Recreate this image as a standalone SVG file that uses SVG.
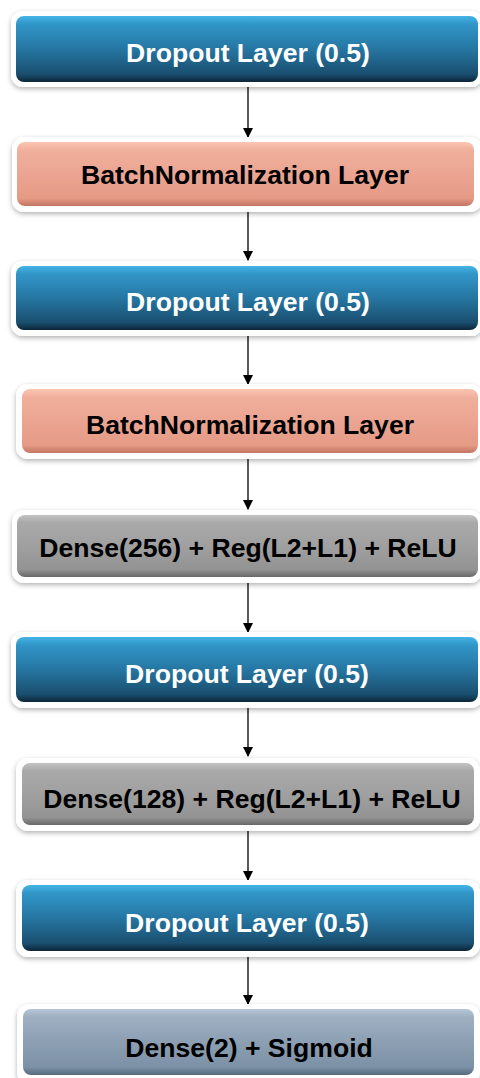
<svg xmlns="http://www.w3.org/2000/svg" width="480" height="1078" viewBox="0 0 480 1078">
<style>
.frame{fill:#ffffff;filter:url(#sh)}
.lbl{font-family:"Liberation Sans",Arial,sans-serif;font-weight:bold;font-size:26.6px;text-anchor:middle}
.w{fill:#ffffff}
.k{fill:#000000}
.conn line{stroke:#000000;stroke-width:1.3;marker-end:url(#ah)}
</style>
<defs>
<filter id="sh" x="-5%" y="-20%" width="110%" height="150%">
<feDropShadow dx="0" dy="2" stdDeviation="2.5" flood-color="#000" flood-opacity="0.3"/>
</filter>
<linearGradient id="gBlue" x1="0" y1="0" x2="0" y2="1">
<stop offset="0" stop-color="#45b4e6"/>
<stop offset="0.12" stop-color="#3196c8"/>
<stop offset="0.5" stop-color="#2676a2"/>
<stop offset="0.88" stop-color="#1a4f70"/>
<stop offset="1" stop-color="#0c2536"/>
</linearGradient>
<linearGradient id="gSalmon" x1="0" y1="0" x2="0" y2="1">
<stop offset="0" stop-color="#fbc6b2"/>
<stop offset="0.12" stop-color="#f0b09c"/>
<stop offset="0.5" stop-color="#eba592"/>
<stop offset="0.88" stop-color="#e59a85"/>
<stop offset="1" stop-color="#c27563"/>
</linearGradient>
<linearGradient id="gGray" x1="0" y1="0" x2="0" y2="1">
<stop offset="0" stop-color="#c4c4c4"/>
<stop offset="0.12" stop-color="#a9a9a9"/>
<stop offset="0.5" stop-color="#a0a0a0"/>
<stop offset="0.88" stop-color="#939393"/>
<stop offset="1" stop-color="#686868"/>
</linearGradient>
<linearGradient id="gSlate" x1="0" y1="0" x2="0" y2="1">
<stop offset="0" stop-color="#b6c6d6"/>
<stop offset="0.12" stop-color="#9fb0c2"/>
<stop offset="0.5" stop-color="#8c9fb3"/>
<stop offset="0.88" stop-color="#7d91a6"/>
<stop offset="1" stop-color="#56697d"/>
</linearGradient>
<marker id="ah" markerWidth="10" markerHeight="10" refX="9" refY="5" orient="auto" markerUnits="userSpaceOnUse">
<path d="M0,0 L10,5 L0,10 Z" fill="#000"/>
</marker>
</defs>

<g id="connectors" class="conn">
<line x1="248" y1="86" x2="248" y2="137"/>
<line x1="248" y1="210" x2="248" y2="260"/>
<line x1="248" y1="334" x2="248" y2="384"/>
<line x1="248" y1="457" x2="248" y2="509"/>
<line x1="248" y1="581" x2="248" y2="632"/>
<line x1="248" y1="706" x2="248" y2="756"/>
<line x1="248" y1="829" x2="248" y2="880"/>
<line x1="248" y1="955" x2="248" y2="1004"/>
</g>

<g id="n1">
<rect class="frame" x="11" y="11" width="472" height="76" rx="12"/>
<rect x="16" y="16" width="462" height="66" rx="8" fill="url(#gBlue)"/>
<text class="lbl w" x="248" y="62">Dropout Layer (0.5)</text>
</g>

<g id="n2">
<rect class="frame" x="12" y="137" width="470" height="75" rx="12"/>
<rect x="17" y="142" width="457" height="64" rx="8" fill="url(#gSalmon)"/>
<text class="lbl k" x="245" y="184">BatchNormalization Layer</text>
</g>

<g id="n3">
<rect class="frame" x="11" y="261" width="472" height="75" rx="12"/>
<rect x="16" y="266" width="462" height="64" rx="8" fill="url(#gBlue)"/>
<text class="lbl w" x="248" y="311">Dropout Layer (0.5)</text>
</g>

<g id="n4">
<rect class="frame" x="16" y="384" width="466" height="75" rx="12"/>
<rect x="22" y="389" width="456" height="64" rx="8" fill="url(#gSalmon)"/>
<text class="lbl k" x="250" y="434">BatchNormalization Layer</text>
</g>

<g id="n5">
<rect class="frame" x="12" y="510" width="470" height="73" rx="12"/>
<rect x="17" y="515" width="461" height="62" rx="8" fill="url(#gGray)"/>
<text class="lbl k" x="248" y="557">Dense(256) + Reg(L2+L1) + ReLU</text>
</g>

<g id="n6">
<rect class="frame" x="11" y="632" width="472" height="76" rx="12"/>
<rect x="16" y="637" width="462" height="65" rx="8" fill="url(#gBlue)"/>
<text class="lbl w" x="247" y="683">Dropout Layer (0.5)</text>
</g>

<g id="n7">
<rect class="frame" x="16" y="758" width="464" height="73" rx="12"/>
<rect x="22" y="763" width="452" height="62" rx="8" fill="url(#gGray)"/>
<text class="lbl k" x="252" y="808">Dense(128) + Reg(L2+L1) + ReLU</text>
</g>

<g id="n8">
<rect class="frame" x="16" y="880" width="464" height="77" rx="12"/>
<rect x="22" y="885" width="452" height="66" rx="8" fill="url(#gBlue)"/>
<text class="lbl w" x="247" y="932">Dropout Layer (0.5)</text>
</g>

<g id="n9">
<rect class="frame" x="17" y="1004" width="463" height="80" rx="12"/>
<rect x="23" y="1009" width="451" height="66" rx="8" fill="url(#gSlate)"/>
<text class="lbl k" x="249" y="1057">Dense(2) + Sigmoid</text>
</g>
</svg>
